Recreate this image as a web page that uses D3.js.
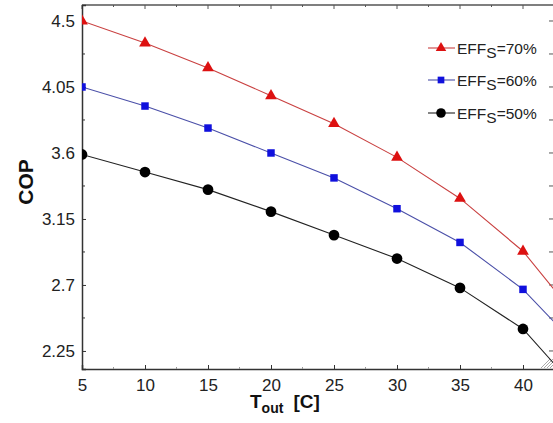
<!DOCTYPE html>
<html><head><meta charset="utf-8">
<script src="https://cdn.jsdelivr.net/npm/d3@7"></script>
<style>body{margin:0;background:#fff;}svg{display:block;font-family:Arial,"Liberation Sans",sans-serif;}</style>
</head><body>
<svg id="c" width="553" height="423"></svg>
<script>
const temps = [5,10,15,20,25,30,35,40,45];
const eff70 = [4.50,4.35,4.18,3.99,3.80,3.57,3.29,2.93,2.40];
const eff60 = [4.05,3.92,3.77,3.60,3.43,3.22,2.99,2.67,2.22];
const eff50 = [3.59,3.47,3.35,3.20,3.04,2.88,2.68,2.40,1.92];
const xTicks = [5,10,15,20,25,30,35,40];
const yTicks = [2.25,2.7,3.15,3.6,4.05,4.5];
const yTickLabels = ["2.25","2.7","3.15","3.6","4.05","4.5"];
const seriesNames = ["70%","60%","50%"];

const svg = d3.select("#c");
const L=82, T=5, B=369, R=586, VR=553;
const x = d3.scaleLinear().domain([5,45]).range([L,R]);
const y = d3.scaleLinear().domain([2.127,4.609]).range([B,T]);

svg.append("defs").append("clipPath").attr("id","clip")
  .append("rect").attr("x",L).attr("y",T).attr("width",VR-L).attr("height",B-T);

const axCol="#333";
// bottom axis
const xMinor = d3.range(7.5,45,5);
const gx = svg.append("g").attr("transform",`translate(0,${B})`)
  .call(d3.axisBottom(x).tickValues(xTicks).tickSize(-4).tickPadding(7).tickFormat(d3.format("d")));
gx.select(".domain").attr("stroke",axCol).attr("stroke-width",1.5);
gx.selectAll(".tick line").attr("stroke",axCol);
gx.selectAll(".tick text").attr("font-size",17).attr("fill","#222").attr("dy","0.9em");
svg.append("g").selectAll("line").data(xMinor).join("line")
  .attr("x1",d=>x(d)).attr("x2",d=>x(d)).attr("y1",B).attr("y2",B-2).attr("stroke","#999");
// top axis
svg.append("line").attr("x1",L).attr("x2",VR).attr("y1",T).attr("y2",T).attr("stroke","#555").attr("stroke-width",1.5);
svg.append("g").selectAll("line").data(d3.range(5,45,2.5)).join("line")
  .attr("x1",d=>x(d)).attr("x2",d=>x(d)).attr("y1",T).attr("y2",d=>(d%5===0)?T+4:T+2).attr("stroke","#555");
// left axis
const gy = svg.append("g").attr("transform",`translate(${L},0)`)
  .call(d3.axisLeft(y).tickValues(yTicks).tickSize(-4).tickPadding(7).tickFormat((d,i)=>yTickLabels[i]));
gy.select(".domain").attr("stroke",axCol).attr("stroke-width",1.5);
gy.selectAll(".tick line").attr("stroke",axCol);
gy.selectAll(".tick text").attr("font-size",17).attr("fill","#222");
const yMinor = d3.range(2.475,4.6,0.45);
svg.append("g").selectAll("line").data(yMinor).join("line")
  .attr("x1",L).attr("x2",L+3).attr("y1",d=>y(d)).attr("y2",d=>y(d)).attr("stroke",axCol);
// right axis ticks
svg.append("g").selectAll("line").data(yTicks.concat(yMinor)).join("line")
  .attr("x1",VR).attr("x2",VR-4).attr("y1",d=>y(d)).attr("y2",d=>y(d)).attr("stroke","#555");

// hatch bottom-right
const hatch = svg.append("g").attr("stroke","#aaa").attr("stroke-width",1);
[0,3,6,9].forEach(o=>{
  hatch.append("line").attr("x1",VR-12+o).attr("y1",B-1).attr("x2",VR-3+o).attr("y2",B-10);
});

// series
const series = [
  {vals:eff70, line:"#c94040", fill:"#dd1111", shape:d3.symbolTriangle, size:60},
  {vals:eff60, line:"#4a4fa8", fill:"#1010dd", shape:d3.symbolSquare, size:56},
  {vals:eff50, line:"#222", fill:"#000", shape:d3.symbolCircle, size:90}
];
const plot = svg.append("g").attr("clip-path","url(#clip)");
const lineGen = d3.line().x((d,i)=>x(temps[i])).y(d=>y(d));
series.forEach(s=>{
  plot.append("path").datum(s.vals).attr("d",lineGen).attr("fill","none").attr("stroke",s.line).attr("stroke-width",1.1);
  plot.selectAll(null).data(s.vals).join("path")
    .attr("transform",(d,i)=>`translate(${x(temps[i])},${y(d)})`)
    .attr("d",d3.symbol().type(s.shape).size(s.size)).attr("fill",s.fill);
});

// legend
const legY=[48,80,113];
series.forEach((s,i)=>{
  const g = svg.append("g").attr("transform",`translate(0,${legY[i]})`);
  g.append("line").attr("x1",428).attr("x2",455).attr("y1",0).attr("y2",0).attr("stroke",s.line).attr("stroke-width",1.1);
  g.append("path").attr("transform","translate(441,0)").attr("d",d3.symbol().type(s.shape).size(s.size*0.8)).attr("fill",s.fill);
  const t = g.append("text").attr("x",457).attr("y",6).attr("font-size",15.5).attr("fill","#222");
  t.append("tspan").text("EFF");
  t.append("tspan").attr("dy",4).attr("font-size",15.5).text("S");
  t.append("tspan").attr("dy",-4).text("="+seriesNames[i]);
});

// axis titles
svg.append("text").attr("transform","translate(33,182) rotate(-90)").attr("text-anchor","middle")
  .attr("font-size",21).attr("font-weight","bold").attr("fill","#111").text("COP");
const xt = svg.append("text").attr("x",250).attr("y",408).attr("font-size",19).attr("font-weight","bold").attr("fill","#111");
xt.append("tspan").text("T");
xt.append("tspan").attr("dy",5).attr("font-size",14).text("out");
xt.append("tspan").attr("dy",-5).attr("dx",10).text("[C]");
</script>
</body></html>
